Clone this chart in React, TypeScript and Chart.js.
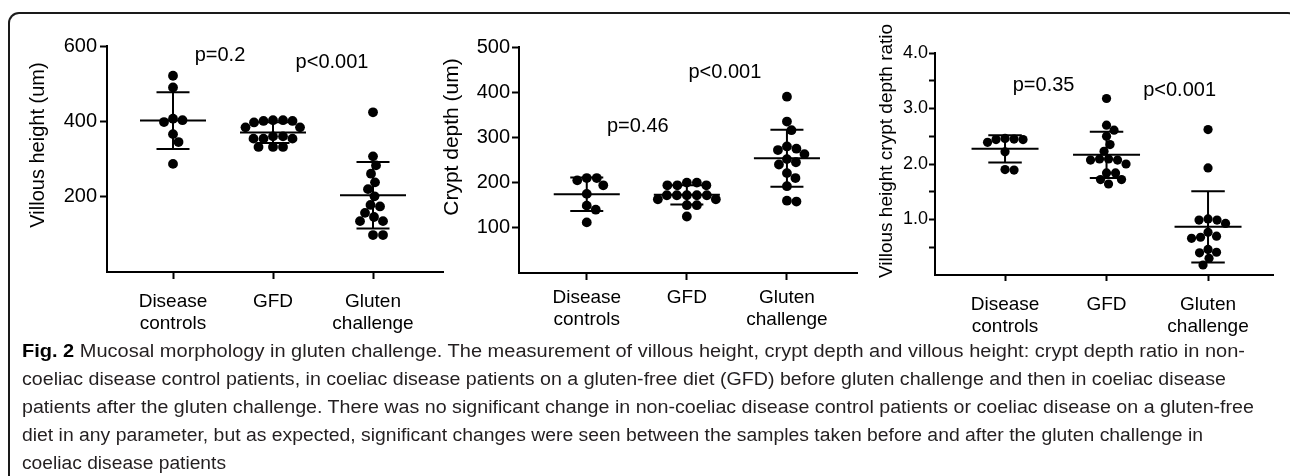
import React, { useEffect, useLayoutEffect, useRef, useState } from 'react';
import { Chart, registerables } from 'chart.js';

Chart.register(...registerables);

const FONT = '"Liberation Sans", Arial, Helvetica, sans-serif';

// ---------- data ----------
const categories: string[][] = [['Disease', 'controls'], ['GFD'], ['Gluten', 'challenge']];

const villousDisease = [521, 490, 407, 398, 403, 366, 345, 287];
const villousGFD = [403, 401, 397, 401, 403, 384, 384, 360, 360, 354, 354, 354, 332, 332, 332];
const villousGluten = [424, 307, 283, 261, 238, 220, 201, 174, 178, 157, 146, 135, 135, 98, 98];

const cryptDisease = [210, 210, 205, 194, 175, 149, 140, 112];
const cryptGFD = [200, 200, 194, 194, 194, 172, 172, 172, 172, 172, 163, 163, 150, 150, 125];
const cryptGluten = [390, 335, 316, 280, 275, 272, 263, 252, 245, 240, 221, 210, 192, 160, 158];

const ratioDisease = [2.46, 2.39, 2.44, 2.44, 2.45, 2.22, 1.89, 1.9];
const ratioGFD = [3.18, 2.7, 2.61, 2.5, 2.35, 2.23, 2.09, 2.07, 2.09, 2.07, 2.0, 1.84, 1.84, 1.72, 1.72, 1.64];
const ratioGluten = [2.62, 1.93, 1.01, 0.99, 0.93, 0.99, 0.7, 0.66, 0.68, 0.77, 0.41, 0.4, 0.46, 0.3, 0.18];

const villousTicks = [200, 400, 600];
const villousTickLabels = ['200', '400', '600'];
const cryptTicks = [100, 200, 300, 400, 500];
const cryptTickLabels = ['100', '200', '300', '400', '500'];
const ratioTicks = [0.5, 1, 1.5, 2, 2.5, 3, 3.5, 4];
const ratioTickLabels = ['', '1.0', '', '2.0', '', '3.0', '', '4.0'];

const villousP = ['p=0.2', 'p<0.001'];
const cryptP = ['p=0.46', 'p<0.001'];
const ratioP = ['p=0.35', 'p<0.001'];

const captionLead = 'Fig. 2';
const captionLines = [
  ' Mucosal morphology in gluten challenge. The measurement of villous height, crypt depth and villous height: crypt depth ratio in non-',
  'coeliac disease control patients, in coeliac disease patients on a gluten-free diet (GFD) before gluten challenge and then in coeliac disease',
  'patients after the gluten challenge. There was no significant change in non-coeliac disease control patients or coeliac disease on a gluten-free',
  'diet in any parameter, but as expected, significant changes were seen between the samples taken before and after the gluten challenge in',
  'coeliac disease patients',
];
const captionLineWidths = [1223, 1204, 1232, 1181, 204];

// ---------- layout ----------
type PanelCfg = {
  title: string;
  titleSize: number;
  tickSize: number;
  groups: number[][];
  yMax: number;
  ticks: number[];
  tickLabels: string[];
  pTexts: string[];
  pAt: [number, number][];
  left: number;
  width: number;
  yWidth: number;
  padTop: number;
  padRight: number;
  xHeight: number;
  xMin: number;
  xMax: number;
  tickLen: number;
  yTickPad: number;
  xPad: number;
  titleX: number;
  titleY: number;
  radius: number;
};

const CANVAS_H = 340;

const panels: PanelCfg[] = [
  {
    title: 'Villous height (um)', titleSize: 20, tickSize: 20,
    groups: [villousDisease, villousGFD, villousGluten],
    yMax: 600, ticks: villousTicks, tickLabels: villousTickLabels,
    pTexts: villousP, pAt: [[0.47, 576], [1.59, 555]],
    left: 10, width: 440, yWidth: 97, padTop: 46, padRight: 7, xHeight: 68,
    xMin: -0.66, xMax: 2.7, tickLen: 7, yTickPad: 3, xPad: 11,
    titleX: 38, titleY: 145, radius: 4.9,
  },
  {
    title: 'Crypt depth (um)', titleSize: 21, tickSize: 20,
    groups: [cryptDisease, cryptGFD, cryptGluten],
    yMax: 500, ticks: cryptTicks, tickLabels: cryptTickLabels,
    pTexts: cryptP, pAt: [[0.51, 324], [1.38, 443]],
    left: 425, width: 445, yWidth: 94, padTop: 47, padRight: 13, xHeight: 67,
    xMin: -0.677, xMax: 2.7, tickLen: 7, yTickPad: 2, xPad: 6,
    titleX: 452, titleY: 137, radius: 4.9,
  },
  {
    title: 'Villous height crypt depth ratio', titleSize: 19, tickSize: 18,
    groups: [ratioDisease, ratioGFD, ratioGluten],
    yMax: 4, ticks: ratioTicks, tickLabels: ratioTickLabels,
    pTexts: ratioP, pAt: [[0.38, 3.42], [1.72, 3.33]],
    left: 862, width: 428, yWidth: 73, padTop: 53, padRight: 17, xHeight: 65,
    xMin: -0.69, xMax: 2.64, tickLen: 6, yTickPad: 1, xPad: 12,
    titleX: 887, titleY: 151, radius: 4.6,
  },
];

function mean(a: number[]) {
  return a.reduce((s, v) => s + v, 0) / a.length;
}
function sd(a: number[]) {
  const m = mean(a);
  return Math.sqrt(a.reduce((s, v) => s + (v - m) * (v - m), 0) / (a.length - 1));
}

// beeswarm offsets (pixels) computed from the y scale
function swarm(values: number[], yScale: any, r: number): number[] {
  const order = values.map((_, i) => i).sort((a, b) => values[b] - values[a]);
  const offsets = new Array(values.length).fill(0);
  const placed: { x: number; y: number }[] = [];
  const d = 2 * r * 0.97;
  for (const i of order) {
    const py = yScale.getPixelForValue(values[i]);
    let chosen = 0;
    for (let k = 0; k < 800; k++) {
      const cand = (k % 2 === 1 ? 1 : -1) * Math.ceil(k / 2) * 0.5;
      let ok = true;
      for (const p of placed) {
        const dx = p.x - cand;
        const dy = p.y - py;
        if (dx * dx + dy * dy < d * d) { ok = false; break; }
      }
      if (ok) { chosen = cand; break; }
    }
    placed.push({ x: chosen, y: py });
    offsets[i] = chosen;
  }
  return offsets;
}

function ChartPanel({ cfg }: { cfg: PanelCfg }) {
  const ref = useRef<HTMLCanvasElement>(null);
  useEffect(() => {
    const canvas = ref.current;
    if (!canvas) return;
    const groups = cfg.groups;
    const pointData = groups.flatMap((vals, g) => vals.map((v) => ({ x: g, y: v })));
    const barData: { x: number; y: number | null }[] = [];
    groups.forEach((vals, g) => {
      const m = mean(vals);
      const s = sd(vals);
      barData.push(
        { x: g - 0.33, y: m }, { x: g + 0.33, y: m }, { x: g, y: null },
        { x: g, y: m - s }, { x: g, y: m + s }, { x: g, y: null },
        { x: g - 0.165, y: m + s }, { x: g + 0.165, y: m + s }, { x: g, y: null },
        { x: g - 0.165, y: m - s }, { x: g + 0.165, y: m - s }, { x: g, y: null },
      );
    });
    const overlay = {
      id: 'overlay',
      afterDraw(chart: any) {
        const { ctx, scales } = chart;
        ctx.save();
        ctx.fillStyle = '#000';
        ctx.font = `20px ${FONT}`;
        ctx.textAlign = 'center';
        ctx.textBaseline = 'middle';
        cfg.pTexts.forEach((t, i) => {
          const [px, py] = cfg.pAt[i];
          ctx.fillText(t, scales.x.getPixelForValue(px), scales.y.getPixelForValue(py));
        });
        ctx.font = `${cfg.titleSize}px ${FONT}`;
        ctx.translate(cfg.titleX - cfg.left, cfg.titleY);
        ctx.rotate(-Math.PI / 2);
        ctx.fillText(cfg.title, 0, 0);
        ctx.restore();
      },
    };
    const chart = new Chart(canvas, {
      type: 'scatter',
      data: {
        datasets: [
          {
            type: 'scatter',
            data: pointData,
            pointRadius: cfg.radius,
            pointHoverRadius: cfg.radius,
            backgroundColor: '#000',
            borderColor: '#000',
            borderWidth: 0,
          } as any,
          {
            type: 'line',
            data: barData,
            borderColor: '#000',
            borderWidth: 2,
            pointRadius: 0,
            spanGaps: false,
            fill: false,
            tension: 0,
            borderCapStyle: 'butt',
          } as any,
        ],
      },
      options: {
        animation: false,
        responsive: false,
        events: [],
        layout: { padding: { top: cfg.padTop, right: cfg.padRight, left: 0, bottom: 0 } },
        plugins: { legend: { display: false }, tooltip: { enabled: false } },
        scales: {
          x: {
            type: 'linear',
            min: cfg.xMin,
            max: cfg.xMax,
            afterBuildTicks: (s: any) => { s.ticks = categories.map((_, i) => ({ value: i })); },
            afterFit: (s: any) => { s.height = cfg.xHeight; },
            ticks: {
              callback: (v: any) => categories[Math.round(Number(v))],
              color: '#000',
              font: { family: FONT, size: 19, lineHeight: 1.2 },
              padding: cfg.xPad,
              maxRotation: 0,
              autoSkip: false,
            },
            grid: { drawOnChartArea: false, tickLength: cfg.tickLen, tickWidth: 2, tickColor: '#000' },
            border: { color: '#000', width: 2 },
          },
          y: {
            type: 'linear',
            min: 0,
            max: cfg.yMax,
            afterBuildTicks: (s: any) => { s.ticks = cfg.ticks.map((v) => ({ value: v })); },
            afterFit: (s: any) => { s.width = cfg.yWidth; },
            ticks: {
              callback: (_v: any, i: number) => cfg.tickLabels[i],
              color: '#000',
              font: { family: FONT, size: cfg.tickSize },
              padding: cfg.yTickPad,
              autoSkip: false,
            },
            grid: { drawOnChartArea: false, tickLength: cfg.tickLen, tickWidth: 2, tickColor: '#000' },
            border: { color: '#000', width: 2 },
          },
        },
      } as any,
      plugins: [overlay],
    });

    const xs: any = chart.scales.x;
    const ys: any = chart.scales.y;
    const pxPerUnit = (xs.right - xs.left) / (cfg.xMax - cfg.xMin);
    const swarmData = groups.flatMap((vals, g) => {
      const offs = swarm(vals, ys, cfg.radius);
      return vals.map((v, i) => ({ x: g + offs[i] / pxPerUnit, y: v }));
    });
    chart.data.datasets[0].data = swarmData as any;
    chart.update('none');

    return () => chart.destroy();
  }, [cfg]);
  return (
    <canvas
      ref={ref}
      width={cfg.width}
      height={CANVAS_H}
      style={{ position: 'absolute', left: cfg.left, top: 0, width: cfg.width, height: CANVAS_H }}
    />
  );
}

function Caption() {
  const refs = useRef<(HTMLSpanElement | null)[]>([]);
  const [scales, setScales] = useState<number[]>(captionLines.map(() => 1));
  useLayoutEffect(() => {
    const next = captionLines.map((_, i) => {
      const el = refs.current[i];
      const w = el ? el.getBoundingClientRect().width : 0;
      return w > 0 ? captionLineWidths[i] / w : 1;
    });
    setScales(next);
  }, []);
  return (
    <div
      style={{
        position: 'absolute',
        left: 22,
        top: 337,
        fontFamily: FONT,
        fontSize: 17.6,
        lineHeight: '28px',
        color: '#231f20',
        whiteSpace: 'nowrap',
      }}
    >
      {captionLines.map((line, i) => (
        <div key={i} style={{ height: 28 }}>
          <span
            ref={(el) => { refs.current[i] = el; }}
            style={{
              display: 'inline-block',
              transform: `scaleX(${scales[i]})`,
              transformOrigin: '0 0',
            }}
          >
            {i === 0 && <b style={{ color: '#000' }}>{captionLead}</b>}
            {line}
          </span>
        </div>
      ))}
    </div>
  );
}

export default function App() {
  return (
    <div
      style={{
        position: 'absolute',
        left: 0,
        top: 0,
        width: 1290,
        height: 476,
        overflow: 'hidden',
        background: '#fff',
      }}
    >
      <div
        style={{
          position: 'absolute',
          left: 8,
          top: 12,
          width: 1296 - 8,
          height: 700,
          boxSizing: 'border-box',
          borderTop: '2px solid #1a1a1a',
          borderLeft: '2px solid #1a1a1a',
          borderRight: '2px solid #1a1a1a',
          borderTopLeftRadius: 11,
          borderTopRightRadius: 8,
        }}
      />
      {panels.map((p, i) => (
        <ChartPanel key={i} cfg={p} />
      ))}
      <Caption />
    </div>
  );
}
